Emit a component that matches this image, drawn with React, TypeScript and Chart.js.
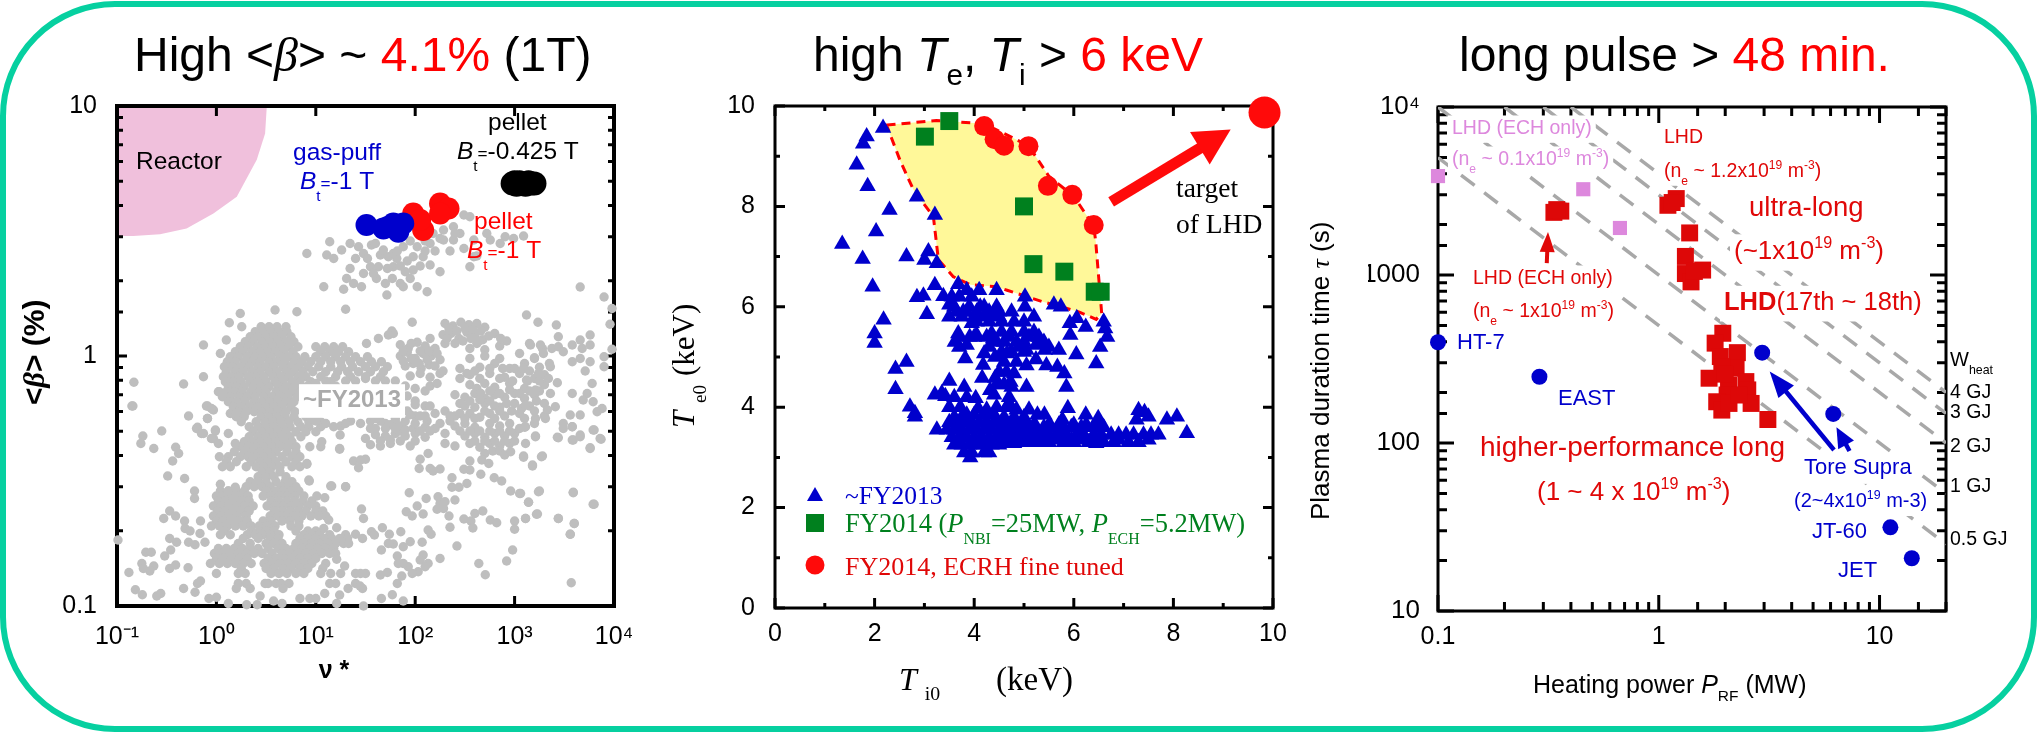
import React, { useEffect, useRef } from "react";
import Chart from "chart.js/auto";

/* ---------- Panel 1: <beta> vs nu* (values stored as [log10 nu*, log10 beta]) ---------- */
const pinkReactorEdge: [number, number][] = [[-1,1],[.507,1],[.49,.89],[.406,.785],[.205,.637],[-.03,.57],[-.3,.51],[-.567,.487],[-.836,.48],[-1,.48]];
const blackPellet: [number, number][] = [[2.98,.69],[3.0,.695],[3.02,.685],[3.05,.695],[3.08,.69],[3.11,.685],[3.14,.695],[3.17,.69],[3.2,.69]];
const bluePuff: [number, number][] = [[1.51,.524],[1.73,.517],[1.83,.497],[1.88,.53],[1.78,.53],[1.68,.51],[1.8,.51]];
const redPellet: [number, number][] = [[1.98,.57],[2.08,.504],[2.05,.544],[2.25,.61],[2.335,.59],[2.25,.57]];
const greyTopCloud: [number, number][] = [[.91,.41],[1.14,.457],[1.11,.404],[1.18,.39],[1.26,.424],[1.345,.45],[1.43,.437],[1.48,.41],[1.56,.444],[1.65,.404],[1.73,.397],[1.815,.39],[1.98,.397],[2.08,.397],[2.15,.364],[2.25,.337],[1.98,.344],[1.9,.337],[1.78,.357],[1.63,.357],[1.55,.357],[1.48,.33],[1.345,.35],[1.31,.31],[1.38,.29],[1.46,.277],[1.28,.267],[1.08,.277],[1.61,.31],[1.7,.29],[1.85,.29],[2.02,.277],[2.12,.257],[1.715,.244],[1.88,.277],[2.18,.49],[2.285,.504],[2.385,.517],[2.49,.564],[2.55,.557],[2.45,.49],[2.59,.464],[2.755,.464],[2.905,.477],[2.99,.47],[2.59,.397],[2.55,.357],[2.02,.437],[2.15,.45],[2.285,.464],[2.385,.464],[2.49,.43],[2.62,.4],[1.88,.437],[1.78,.41],[1.68,.424],[2.72,.49],[2.855,.45],[3.09,.48],[1.6,.45],[1.85,.36],[2.1,.42],[2.2,.42],[2.35,.42],[1.95,.46],[1.72,.35],[1.82,.42],[1.92,.38],[2.05,.36],[2.1,.46],[2.25,.47],[2.4,.49],[1.52,.39],[1.4,.39],[1.58,.33],[1.77,.31],[1.95,.31]];
const greyMainRows: [number, number[]][] = [
  [.117,[.45,.53,.61,.7]],
  [.097,[.39,.47,.55,.63,.71]],
  [.077,[.34,.42,.5,.58,.66,.75]],
  [.057,[.29,.37,.46,.54,.62,.7,.78]],
  [.037,[.24,.32,.41,.49,.57,.65,.73,.82,1.0,1.09,1.18,1.27]],
  [.017,[.19,.27,.36,.44,.52,.6,.68,.77,1.05,1.14,1.23,1.33]],
  [-.003,[.14,.22,.31,.39,.47,.55,.64,.72,.8,.89,1.0,1.1,1.2,1.3,1.4,1.52]],
  [-.023,[.11,.19,.28,.36,.44,.53,.61,.69,.78,.86,.95,1.05,1.15,1.25,1.35,1.45,1.56,1.66]],
  [-.043,[.08,.16,.25,.33,.42,.5,.58,.67,.75,.83,.92,1.03,1.15,1.26,1.37,1.5,1.6,1.72]],
  [-.063,[.1,.19,.27,.36,.44,.53,.61,.7,.78,.87,.97,1.1,1.22,1.32,1.43,1.55,1.68]],
  [-.083,[.07,.15,.23,.32,.4,.48,.57,.65,.73,.82,.9,1.05,1.2,1.35,1.5,1.65]],
  [-.103,[.09,.17,.25,.34,.42,.5,.59,.67,.76,.84,.95,1.15]],
  [-.123,[.12,.2,.28,.37,.45,.53,.62,.7,.78,.86]],
  [-.143,[.03,.1,.18,.26,.35,.43,.5,.6,.68,.76,.84]],
  [-.163,[.06,.14,.23,.31,.39,.48,.56,.64,.72,.81]],
  [-.183,[.12,.2,.29,.38,.46,.54,.62,.7,.78]],
  [-.203,[.17,.25,.34,.42,.5,.58,.66,.75]],
  [-.223,[.22,.3,.38,.46,.54,.62,.7,.79,.9]],
  [-.243,[.2,.28,.45,.53,.61,.69,.78,.9,1.0]],
  [-.263,[.25,.4,.49,.57,.65,.73,.82,.93,1.05]],
  [-.283,[.33,.42,.5,.58,.66,.74,.85,.93,1.05,1.18]],
  [-.303,[.37,.46,.54,.62,.7,.8,.9,1.0]],
  [-.323,[.33,.42,.5,.58,.66,.74,.85]],
  [-.343,[.28,.36,.44,.52,.6,.68,.76]],
  [-.363,[.24,.32,.4,.48,.56,.64,.72,.8,.94,1.05]],
  [-.383,[.18,.28,.36,.44,.52,.6,.71,.8]],
  [-.403,[.03,.12,.24,.32,.4,.48,.56,.66,.76,.84]],
  [-.423,[.1,.2,.35,.44,.52,.6,.7,.8]],
  [-.443,[.06,.14,.3,.4,.48,.56,.64,.76,.84]],
  [-.463,[.46,.54,.64]],
  [-.483,[.42,.5,.58,.7]],
  [-.503,[.34,.42,.5,.6,.69,.76]],
  [-.523,[.3,.38,.46,.54,.65,.72,.8]],
  [-.54,[.04,.12,.2,.28,.5,.59,.67,.75,.83]],
  [-.56,[0,.08,.16,.24,.32,.47,.55,.63,.71,.79,.88]],
  [-.58,[.02,.09,.17,.25,.33,.55,.63,.71,.79,.87,.96]],
  [-.6,[-.03,.05,.13,.21,.29,.37,.51,.59,.67,.75,.83,.92,1.0]],
  [-.62,[.01,.09,.17,.25,.33,.58,.66,.74,.82,.9,1.0,1.07]],
  [-.64,[-.03,.05,.13,.21,.3,.54,.62,.7,.78,.86,.95,1.03,1.1]],
  [-.66,[0,.07,.15,.23,.31,.47,.55,.66,.74,.83]],
  [-.68,[-.05,.03,.11,.19,.27,.35,.43,.51,.59,.75,.83]],
  [-.7,[.08,.35,.43,.5,.58,.8,.92,1.0]],
  [-.715,[.04,.14,.31,.39,.47,.55,.63,.88,.96,1.04,1.14,1.3]],
  [-.73,[.27,.42,.54,.62,.84,.92,1.0,1.08,1.16,1.24,1.32]],
  [-.75,[.22,.34,.5,.58,.66,.8,.88,.96,1.04,1.12,1.2,1.28,1.33]],
  [-.77,[.02,.1,.18,.26,.34,.42,.52,.62,.7,.78,.86,.94,1.02,1.1,1.18]],
  [-.79,[-.02,.06,.14,.22,.3,.38,.46,.56,.66,.74,.82,.9,.98,1.06,1.14,1.2]],
  [-.81,[0,.07,.15,.23,.31,.52,.6,.68,.76,.84,.92,1.0]],
  [-.83,[-.06,.03,.11,.19,.27,.35,.48,.56,.64,.72,.8,.88,.96,1.1]],
  [-.85,[.25,.5,.58,.67,.75,.84,.92,1.07]],
  [-.87,[0,.22,.29,.55,.63,.71,.8,.88,1.05,1.15,1.25,1.4,1.45,1.5]],
  [-.91,[.22,.3,.52,.6,.65,.73,1.14,1.2,1.4]],
];
const greyAroundLabel: [number, number][] = [[1.9,-.12],[2.0,-.13],[2.1,-.14],[1.92,-.16],[2.0,-.18],[2.1,-.2],[1.92,-.22],[2.0,-.24],[2.12,-.26],[1.9,-.26],[1.8,-.26],[1.7,-.27],[1.3,-.1],[1.4,-.1],[1.5,-.09],[1.6,-.1],[1.7,-.1],[1.8,-.1],[1.35,-.26],[1.45,-.27],[1.55,-.26],[1.0,-.26],[1.1,-.27],[.92,-.12],[1.0,-.11],[1.1,-.1],[1.2,-.12],[.9,-.18],[.95,-.25],[1.25,-.28],[1.6,-.29],[1.98,-.29],[1.85,-.3]];
const greyRightLobe: [number, number][] = [[2.3,.13],[2.38,.12],[2.46,.135],[2.54,.125],[2.62,.13],[2.7,.115],[1.78,.09],[2.15,.07],[2.28,.085],[2.36,.09],[2.44,.07],[2.52,.095],[2.6,.08],[2.68,.065],[2.8,.09],[2.92,.06],[1.85,.045],[1.93,.03],[2.02,.055],[2.1,.04],[2.2,.03],[2.3,.05],[2.55,.03],[2.62,.05],[2.7,.025],[2.85,.04],[3.15,.05],[3.28,.03],[1.85,0],[1.92,.015],[2.0,-.01],[2.08,.01],[2.16,0],[2.25,-.015],[2.55,-.01],[2.7,0],[2.85,-.01],[3.05,.01],[3.2,-.01],[1.9,-.04],[1.98,-.03],[2.06,-.05],[2.14,-.035],[2.65,-.045],[2.8,-.03],[2.95,-.05],[3.1,-.03],[3.25,-.045],[3.35,-.03],[1.95,-.08],[2.05,-.07],[2.15,-.085],[2.25,-.07],[2.55,-.075],[2.65,-.09],[2.75,-.07],[2.9,-.085],[3.05,-.07],[3.2,-.09],[3.3,-.075],[2.15,-.12],[2.22,-.11],[2.55,-.115],[2.62,-.13],[2.7,-.11],[2.8,-.125],[2.95,-.11],[3.1,-.13],[3.3,-.115],[2.4,-.155],[2.5,-.165],[2.6,-.15],[2.7,-.17],[2.8,-.155],[2.9,-.165],[3.0,-.15],[3.1,-.17],[3.2,-.155],[2.0,-.195],[2.15,-.2],[2.45,-.19],[2.6,-.205],[2.7,-.19],[2.85,-.205],[3.0,-.19],[3.15,-.2],[3.3,-.19],[1.95,-.235],[2.1,-.24],[2.2,-.23],[2.4,-.24],[2.55,-.23],[2.65,-.245],[2.75,-.23],[2.9,-.24],[3.05,-.23],[3.3,-.24],[1.75,-.275],[1.85,-.28],[2.0,-.27],[2.1,-.285],[2.25,-.27],[2.4,-.28],[2.5,-.27],[2.6,-.285],[2.75,-.27],[2.85,-.28],[2.95,-.27],[3.1,-.285],[3.2,-.27],[1.6,-.315],[1.7,-.32],[1.8,-.31],[1.9,-.32],[2.0,-.31],[2.1,-.325],[2.3,-.31],[2.5,-.32],[2.6,-.31],[2.7,-.325],[2.8,-.31],[2.9,-.32],[3.0,-.31],[1.55,-.355],[1.65,-.36],[1.75,-.35],[1.95,-.36],[2.3,-.35],[2.4,-.36],[2.55,-.35],[2.65,-.365],[2.75,-.35],[2.85,-.36],[2.95,-.35]];
const greyRightFill: [number, number][] = [[1.88,.02],[1.96,.05],[2.05,.02],[2.14,.02],[2.22,.01],[1.88,-.02],[1.96,-.01],[2.04,-.03],[2.12,-.015],[2.2,-.04],[2.28,-.06],[2.34,.11],[2.42,.1],[2.5,.11],[2.58,.105],[2.66,.1],[2.32,.07],[2.4,.05],[2.48,.06],[2.56,.07],[2.64,.06],[2.74,.08],[2.86,.07],[2.45,-.05],[2.52,-.07],[2.45,-.09],[2.6,-.06],[2.75,-.05],[2.88,-.05],[3.0,-.05],[3.15,-.06],[2.85,-.09],[2.98,-.1],[3.13,-.1],[3.25,-.1],[2.66,-.15],[2.75,-.14],[2.85,-.15],[2.95,-.135],[3.05,-.15],[3.15,-.14],[3.25,-.14],[2.5,-.2],[2.55,-.18],[2.65,-.175],[2.75,-.18],[2.8,-.2],[2.92,-.19],[3.07,-.21],[3.22,-.18],[2.45,-.23],[2.6,-.25],[2.7,-.22],[2.8,-.25],[2.85,-.22],[2.97,-.22],[3.1,-.25],[3.2,-.22],[2.5,-.25],[2.35,-.26],[2.45,-.3],[2.55,-.3],[2.65,-.3],[2.75,-.3],[2.85,-.3],[2.95,-.3],[3.05,-.29],[2.6,-.34],[2.7,-.34],[2.8,-.34],[2.9,-.34],[3.0,-.34],[2.7,-.39],[2.78,-.38],[2.85,-.38],[1.7,-.29],[1.8,-.29],[1.9,-.295],[2.05,-.3],[2.2,-.29],[1.65,-.34],[1.75,-.335],[1.85,-.34],[2.0,-.34],[2.15,-.3],[1.5,-.33],[1.55,-.29],[1.65,-.26],[1.6,-.25],[1.8,-.25],[2.05,-.24],[2.3,-.22],[2.35,-.24]];
const greyFarRight: [number, number][] = [[3.66,.276],[3.9,.236],[3.98,.19],[3.96,.127],[3.98,.027],[3.12,.164],[3.235,.135],[3.42,.124],[3.44,.077],[3.375,.03],[3.44,.037],[3.49,.017],[3.58,.044],[3.66,.064],[3.76,.084],[3.68,.03],[3.76,.044],[3.66,-.01],[3.58,-.023],[3.16,.044],[3.26,.044],[3.2,-.007],[3.29,.01],[3.36,-.043],[3.9,-.003],[3.9,-.043],[3.76,-.023],[3.71,-.06],[3.09,-.05],[3.12,-.096],[3.24,-.07],[3.34,-.09],[3.43,-.107],[3.21,-.136],[3.36,-.15],[3.58,-.15],[3.78,-.11],[3.73,-.15],[3.69,-.176],[3.79,-.183],[3.11,-.196],[3.33,-.216],[3.41,-.203],[3.56,-.236],[3.66,-.236],[3.88,-.21],[3.83,-.223],[3.21,-.25],[3.31,-.25],[3.49,-.27],[3.58,-.283],[3.79,-.296],[3.86,-.33],[3.11,-.283],[3.21,-.323],[3.43,-.325],[3.59,-.336],[3.66,-.323],[3.76,-.37],[3.09,-.4],[3.28,-.4],[3.18,-.436],[3.24,-.543],[3.59,-.545],[3.14,-.585],[3.79,-.593],[3.11,-.65],[3.23,-.632],[3.44,-.65],[3.6,-.67],[3.56,-.713],[3.06,-.55]];
const greyLeftEdge: [number, number][] = [[.59,.184],[.81,.177],[.24,.17],[.255,.117],[.13,.133],[1.3,.187],[-.13,.044],[.1,.064],[.04,.01],[-.13,-.083],[-.33,-.112],[-.83,-.105],[-.84,-.2],[-.85,-.2],[-.28,-.24],[-.09,-.25],[-.09,-.2],[-.03,-.216],[.02,-.143],[-.19,-.285],[-.13,-.31],[-.01,-.3],[-.03,-.33],[1.97,.135],[1.765,.1],[1.73,.084],[1.63,.07],[1.51,.05],[1.3,-.27],[1.245,-.316],[1.06,-.343],[1.24,-.37],[.91,-.43],[.935,-.5],[1.15,-.52],[1.3,-.523],[-.74,-.32],[-.76,-.35],[-.55,-.3],[-.63,-.37],[-.41,-.365],[-.38,-.39],[-.44,-.42],[-.49,-.48],[-.32,-.49],[-.22,-.54],[-.22,-.57],[-.47,-.62],[-.53,-.65],[-.41,-.64],[-.32,-.66],[-.16,-.66],[-.99,-.736],[-.315,-.69],[-.265,-.7],[-.165,-.71],[-.47,-.73],[-.4,-.745],[-.28,-.745],[-.215,-.755],[-.115,-.745],[-.71,-.785],[-.655,-.785],[-.52,-.8],[-.46,-.776],[-.75,-.83],[-.63,-.84],[-.67,-.86],[-.735,-.85],[-.88,-.866],[-.47,-.85],[-.41,-.836],[-.285,-.847],[-.815,-.935],[-.745,-.955],[-.6,-.96],[-.56,-.95],[-.33,-.93],[-.215,-.945],[-.19,-.91],[-.16,-.9],[-.075,-.97],[0,-.965],[.12,-.99],[.305,-.995],[.41,-.995],[.44,-.96],[.49,-.91],[.575,-.98],[.66,-.99],[.84,-.97],[.94,-.97],[1.0,-.97],[1.09,-.95],[1.21,-.99],[1.24,-.956],[1.325,-.93],[1.48,-1],[1.445,-.92],[1.47,-.93],[.2,-.93],[.34,-.93],[.67,-.93],[-.2,-.29],[-.15,-.31],[-.01,-.296],[-.05,-.33],[.02,-.35],[.12,-.31],[.19,-.35],[-.1,-.2],[-.05,-.21],[-.09,-.25],[.14,-.23],[.2,-.23],[.04,-.513],[.12,-.54],[.19,-.525],[1.24,-.373],[1.29,-.84],[1.21,-.813]];
const greyLowerRight: [number, number][] = [[1.66,-.97],[1.77,-.955],[1.82,-.91],[1.88,-.98],[1.865,-.88],[1.65,-.876],[1.72,-.866],[1.38,-.42],[1.45,-.416],[1.5,-.413],[1.43,-.447],[.91,-.433],[.93,-.496],[1.16,-.52],[1.3,-.523],[1.01,-.56],[1.09,-.567],[1.46,-.612],[1.48,-.65],[1.94,-.547],[2.11,-.57],[2.02,-.6],[1.91,-.623],[1.97,-.64],[2.08,-.632],[2.23,-.563],[2.25,-.59],[2.3,-.583],[2.22,-.613],[2.4,-.576],[2.285,-.61],[2.34,-.64],[2.35,-.685],[2.49,-.652],[2.56,-.66],[2.6,-.63],[2.68,-.62],[2.58,-.688],[2.755,-.656],[2.82,-.667],[3.0,-.66],[3.0,-.693],[3.11,-.65],[3.22,-.633],[3.44,-.65],[3.6,-.67],[3.56,-.713],[3.59,-.547],[3.8,-.593],[3.25,-.54],[3.14,-.585],[3.05,-.55],[2.96,-.54],[2.87,-.5],[2.795,-.487],[2.66,-.473],[2.37,-.487],[2.37,-.525],[2.44,-.525],[2.52,-.51],[2.49,-.453],[2.55,-.456],[2.55,-.42],[2.67,-.416],[2.74,-.43],[2.13,-.39],[2.05,-.413],[2.04,-.45],[2.15,-.45],[2.25,-.452],[2.18,-.46],[2.9,-.396],[2.96,-.383],[3.09,-.405],[3.18,-.44],[3.27,-.403],[3.11,-.35],[3.21,-.32],[3.44,-.327],[3.58,-.336],[3.66,-.316],[3.76,-.367],[3.87,-.333],[3.8,-.296],[3.49,-.29],[3.58,-.283],[2.42,-.76],[2.98,-.776],[2.64,-.83],[2.705,-.875],[2.92,-.82],[3.57,-.907],[2.25,-.81],[2.08,-.796],[2.05,-.816],[2.13,-.83],[2.1,-.843],[2.03,-.863],[1.97,-.87],[1.93,-.843],[1.88,-.83],[1.83,-.83],[1.82,-.8],[1.95,-.743],[2.07,-.745],[1.88,-.763],[1.78,-.752],[1.73,-.75],[1.74,-.713],[1.66,-.776],[1.855,-.703],[2.13,-.696],[2.16,-.713],[1.67,-.687],[1.56,-.703],[1.59,-.716],[1.4,-.713],[1.47,-.73],[1.21,-.687],[1.13,-.656],[1.08,-.69]];

/* ---------- Panel 2: Te0 vs Ti0 (keV) ---------- */
const regionEdge: [number, number][] = [[2.24,9.62],[3.24,9.71],[4.0,9.66],[4.4,9.55],[5.09,9.21],[5.5,8.6],[6.0,8.2],[6.4,7.61],[6.44,7.3],[6.56,5.87],[6.45,5.75],[6.1,5.9],[5.38,6.1],[4.66,6.33],[4.45,6.4],[3.92,6.44],[3.58,6.6],[3.28,6.94],[3.25,7.2],[3.18,7.8],[2.98,8.06],[2.78,8.33],[2.51,8.92]];
const targetPoint: [number, number][] = [[9.83,9.87]];
const fy2014Ecrh: [number, number][] = [[4.2,9.6],[4.41,9.34],[4.6,9.21],[5.09,9.2],[5.48,8.41],[5.97,8.23],[6.4,7.63]];
const fy2014Nbi: [number, number][] = [[3.01,9.39],[3.5,9.7],[5.0,8.0],[5.19,6.85],[5.81,6.7],[6.42,6.3],[6.54,6.3]];
const fy2013Loose: [number, number][] = [[2.17,9.56],[1.84,9.39],[1.77,9.25],[1.64,8.83],[1.86,8.4],[2.85,8.19],[3.21,7.83],[2.3,7.93],[2.03,7.5],[1.35,7.25],[1.76,6.95],[2.64,7.0],[3.08,7.1],[3.0,6.93],[3.25,6.87],[1.96,6.4],[3.21,6.43],[3.68,6.45],[3.85,6.33],[4.1,6.33],[2.85,6.19],[2.98,6.22],[3.38,6.21],[4.45,6.33],[3.5,6.04],[3.05,5.85],[3.78,5.9],[4.12,6.0],[4.32,5.84],[2.18,5.74],[2.0,5.47],[2.0,5.28],[3.95,5.67],[3.68,5.47],[3.91,5.4],[4.05,5.44],[4.35,5.47],[3.61,5.3],[3.85,5.24],[4.38,5.37],[4.2,5.07],[3.82,4.97],[4.42,5.0],[4.18,4.84],[2.64,4.9],[2.42,4.76],[2.42,4.36],[3.5,4.52],[4.16,4.58],[4.42,4.58],[4.32,4.34],[3.35,4.28],[3.21,4.25],[3.42,4.22],[4.03,4.18],[3.72,4.0],[4.08,3.98],[2.71,4.01],[2.81,3.88],[2.81,3.81],[5.02,6.2],[5.02,6.0],[5.6,6.04],[5.74,6.0],[6.06,5.77],[5.92,5.67],[6.24,5.6],[6.6,5.7],[6.63,5.57],[6.67,5.4],[5.93,5.44],[6.53,5.2],[5.7,5.14],[6.05,5.05],[6.45,4.87],[5.24,5.24],[5.42,5.14],[5.05,5.14],[4.66,5.07],[5.24,4.95],[5.45,4.83],[5.67,4.8],[5.81,4.67],[5.05,4.83],[4.8,4.67],[4.73,4.5],[5.05,4.4],[5.85,4.4],[4.7,4.08],[5.88,3.98],[5.27,3.85],[5.41,3.85],[5.77,3.75],[6.24,3.85],[6.49,3.78],[7.3,3.94],[7.42,3.9],[7.5,3.81],[7.87,3.75],[8.07,3.81],[8.27,3.48],[7.26,3.75]];
const fy2013Rows: [number, number[]][] = [
  [6.2,[3.55,3.7,3.95]],
  [6.0,[3.6,3.9,4.2,4.45]],
  [5.9,[3.65,3.85,4.05,4.3,4.5,4.75]],
  [5.8,[3.5,3.75,4.0,4.2,4.5,5.2]],
  [5.7,[4.05,4.3,4.55,4.8,5.0]],
  [5.5,[4.55,4.75,5.0,5.2]],
  [5.4,[3.7,4.0,4.25,4.7,5.1,5.3]],
  [5.3,[4.45,4.6,4.85,5.0,5.4]],
  [5.2,[3.7,4.3,4.9,5.5]],
  [5.1,[4.55,4.75,5.0]],
  [4.9,[4.6,4.85]],
  [4.7,[4.5,4.65]],
  [4.45,[4.45,4.6]],
  [4.4,[3.8,4.75]],
  [4.25,[4.4]],
  [4.2,[3.6,3.85,4.7]],
  [4.0,[3.5,4.45,4.65]],
  [3.95,[4.25,4.85,5.1]],
  [3.85,[3.85,4.0,4.2,4.4]],
  [3.8,[3.6,3.75,4.6,4.8,5.0]],
  [3.7,[3.5,3.65,3.8,3.95,4.1,4.25,4.4,4.55]],
  [3.65,[4.7,4.85,5.0,5.2,5.5,5.7,6.0,6.25,6.5]],
  [3.6,[4.6,4.8,4.95,5.1,5.25,5.4,5.55,5.8,5.95,6.15,6.4,6.6]],
  [3.55,[3.25,3.45,3.6,3.75,3.9,4.05,4.2,4.35,4.5]],
  [3.5,[4.65,4.85,5.15,5.45,5.7]],
  [3.45,[4.55,4.7,4.9,5.05,5.2,5.35,5.5,5.65,5.85,6.05,6.2,6.4,6.55,6.75,6.9,7.05,7.2,7.4,7.55,7.7]],
  [3.4,[3.55,3.7,3.85,4.0,4.15,4.3,4.45]],
  [3.35,[4.6,4.8,5.0,5.2,5.45,5.65,5.95,6.15,6.45,6.9,7.5]],
  [3.3,[4.0,4.2,4.7,4.9,5.1,5.3,5.5,5.8,6.0,6.3,6.6,6.8,7.1,7.3]],
  [3.28,[4.6,4.8,6.45]],
  [3.25,[3.6,3.75,3.9,4.05,4.2,4.35,4.5]],
  [3.1,[3.8,3.95,4.2,4.3]],
  [3.0,[3.92]],
];
const arrowToTarget: [number, number][] = [[6.75,8.09],[9.15,9.53]];

/* ---------- Panel 3: tau vs P ---------- */
const wheatLines: [number, number][][] = [
  [[.1,5000],[20,25]],
  [[.1,10000],[20,50]],
  [[.2,10000],[20,100]],
  [[.3,10000],[20,150]],
  [[.4,10000],[20,200]],
];
const lhdEchOnlyLow: [number, number][] = [[.1,3880],[.455,3240],[.667,1905]];
const lhdLong: [number, number][] = [[.335,2360],[.36,2400],[.345,2450],[1.1,2600],[1.2,2850],[1.15,2700],[1.38,1780],[1.32,1290],[1.58,1070],[1.32,1020],[1.4,910],[1.45,1050],[1.95,450],[1.8,393],[2.27,345],[1.9,327],[2.24,279],[1.93,285],[1.69,243],[2.07,221],[2.48,232],[2.53,207],[2.04,193],[1.83,176],[1.93,157],[2.62,172],[3.12,138],[2.08,172],[2.3,193],[2.0,257]];
const otherDevices: [number, number][] = [[.1,398],[.288,248],[2.94,345],[6.17,149],[11.2,31.5],[14,20.6]];
const echArrow: [number, number][] = [[.311,1178],[.315,1803]];
const toreArrowA: [number, number][] = [[6.22,90.8],[3.18,266]];
const toreArrowB: [number, number][] = [[7.31,89.6],[6.38,124]];

/* ---------- helpers ---------- */
const SANS = '"Liberation Sans", Arial, sans-serif';
const SERIF = '"Liberation Serif", "Times New Roman", serif';
const W = 2039, H = 735;

type Run = { t: string; c?: string; i?: boolean; b?: boolean; f?: string; k?: number; dy?: number };
type Block = { x: number; y: number; size: number; color: string; font?: string; rot?: boolean; align?: "center"; bg?: boolean; runs: (string | Run)[] };

const sup = (t: string, c?: string): Run => ({ t, k: 0.62, dy: -0.42, c });
const sub = (t: string, dy = 0.42, k = 0.62): Run => ({ t, k, dy });
const it = (t: string, f?: string): Run => ({ t, i: true, f });

function drawBlock(ctx: CanvasRenderingContext2D, b: Block) {
  const fontOf = (r: Run) => `${r.i ? "italic " : ""}${r.b ? "bold " : ""}${b.size * (r.k || 1)}px ${r.f || b.font || SANS}`;
  const runs: Run[] = b.runs.map((r) => (typeof r === "string" ? { t: r } : r));
  ctx.save();
  ctx.textBaseline = "alphabetic";
  ctx.textAlign = "left";
  let total = 0;
  const widths = runs.map((r) => { ctx.font = fontOf(r); const w = ctx.measureText(r.t).width; total += w; return w; });
  ctx.translate(b.x, b.y);
  if (b.rot) ctx.rotate(-Math.PI / 2);
  let x = b.align === "center" ? -total / 2 : 0;
  if (b.bg) { ctx.fillStyle = "#ffffff"; ctx.fillRect(x - 4, -b.size * 0.95, total + 8, b.size * 1.4); }
  runs.forEach((r, i) => {
    ctx.font = fontOf(r);
    ctx.fillStyle = r.c || b.color;
    ctx.fillText(r.t, x, (r.dy || 0) * b.size);
    x += widths[i];
  });
  ctx.restore();
}

function drawArrow(chart: any, ends: [number, number][], color: string, lw: number, headLen: number, headW: number) {
  const { ctx, scales } = chart;
  const [a, b] = ends.map((p) => [scales.x.getPixelForValue(p[0]), scales.y.getPixelForValue(p[1])]);
  const ang = Math.atan2(b[1] - a[1], b[0] - a[0]);
  ctx.save();
  ctx.translate(b[0], b[1]);
  ctx.rotate(ang);
  const len = Math.hypot(b[0] - a[0], b[1] - a[1]);
  ctx.fillStyle = color;
  ctx.fillRect(-len, -lw / 2, len - headLen + 1, lw);
  ctx.beginPath();
  ctx.moveTo(0, 0);
  ctx.lineTo(-headLen, -headW / 2);
  ctx.lineTo(-headLen, headW / 2);
  ctx.closePath();
  ctx.fill();
  ctx.restore();
}

type FrameOpts = { lw: number; tickW: number; major: number; minor: number; minorX: boolean; minorY: boolean; isMajorX: (v: number) => boolean; isMajorY: (v: number) => boolean };
const isDecade = (v: number) => Math.abs(Math.log10(v) - Math.round(Math.log10(v))) < 1e-6;
const isEven = (v: number) => Math.abs(v % 2) < 1e-6;

function drawFrame(chart: any, o: FrameOpts) {
  const { ctx, chartArea: a, scales } = chart;
  ctx.save();
  ctx.strokeStyle = "#000";
  ctx.lineWidth = o.tickW;
  ctx.beginPath();
  scales.x.ticks.forEach((t: any) => {
    const mj = o.isMajorX(t.value);
    if (!mj && !o.minorX) return;
    const p = scales.x.getPixelForValue(t.value);
    const l = mj ? o.major : o.minor;
    ctx.moveTo(p, a.bottom); ctx.lineTo(p, a.bottom - l);
    ctx.moveTo(p, a.top); ctx.lineTo(p, a.top + l);
  });
  scales.y.ticks.forEach((t: any) => {
    const mj = o.isMajorY(t.value);
    if (!mj && !o.minorY) return;
    const p = scales.y.getPixelForValue(t.value);
    const l = mj ? o.major : o.minor;
    ctx.moveTo(a.left, p); ctx.lineTo(a.left + l, p);
    ctx.moveTo(a.right, p); ctx.lineTo(a.right - l, p);
  });
  ctx.stroke();
  ctx.lineWidth = o.lw;
  ctx.strokeRect(a.left, a.top, a.right - a.left, a.bottom - a.top);
  ctx.restore();
}

function drawPolygon(chart: any, pts: [number, number][], fill: string, stroke?: string) {
  const { ctx, scales } = chart;
  ctx.save();
  ctx.beginPath();
  pts.forEach((p, i) => {
    const x = scales.x.getPixelForValue(p[0]), y = scales.y.getPixelForValue(p[1]);
    if (i) ctx.lineTo(x, y); else ctx.moveTo(x, y);
  });
  ctx.closePath();
  ctx.fillStyle = fill;
  ctx.fill();
  if (stroke) {
    ctx.strokeStyle = stroke;
    ctx.lineWidth = 3;
    ctx.setLineDash([9, 6]);
    ctx.stroke();
  }
  ctx.restore();
}

function axis(type: string, min: number, max: number, padding: number, size: number, cb: (v: number) => string, fit: (s: any) => void, extra: any = {}) {
  return {
    type, min, max,
    grid: { display: false }, border: { display: false },
    ticks: { callback: cb, autoSkip: false, maxRotation: 0, padding, color: "#000", font: { family: SANS, size }, ...extra },
    afterFit(s: any) { fit(s); s.paddingLeft = 0; s.paddingRight = 0; s.paddingTop = 0; s.paddingBottom = 0; },
  };
}
const fixWidth = (s: any) => { s.width = 70; };
const fixHeight = (s: any) => { s.height = 50; };
const box = (l: number, t: number, r: number, b: number) => ({ left: l - 70, top: t, right: W - r, bottom: H - b - 50 });

const log = (p: [number, number][]) => p.map(([x, y]) => ({ x: 10 ** x, y: 10 ** y }));
const xy = (p: [number, number][]) => p.map(([x, y]) => ({ x, y }));
const fromRows = (rows: [number, number[]][]) => rows.flatMap(([y, xs]) => xs.map((x) => [x, y] as [number, number]));
const pts = (data: any[], color: string, style: string, r: number) => ({ data, pointStyle: style, pointRadius: r, pointBackgroundColor: color, pointBorderWidth: 0, showLine: false, clip: false as any });

const RED = "#FF0000";
const BLUE = "#0000CC";
const LRED = "#E00808";
const PINK = "#DD88DD";

const textP1: Block[] = [
  { x: 134, y: 71, size: 48, color: "#000", runs: ["High <", it("β", SERIF), "> ~ ", { t: "4.1%", c: RED }, " (1T)"] },
  { x: 136, y: 169, size: 24.5, color: "#000", runs: ["Reactor"] },
  { x: 293, y: 160, size: 24.5, color: BLUE, runs: ["gas-puff"] },
  { x: 300, y: 189, size: 24.5, color: BLUE, runs: [it("B"), sub("t", .48), { t: "=", k: .7 }, "-1 T"] },
  { x: 488, y: 130, size: 24.5, color: "#000", runs: ["pellet"] },
  { x: 457, y: 159, size: 24.5, color: "#000", runs: [it("B"), sub("t", .48), { t: "=", k: .7 }, "-0.425 T"] },
  { x: 474, y: 229, size: 24.5, color: RED, runs: ["pellet"] },
  { x: 467, y: 258, size: 24.5, color: RED, runs: [it("B"), sub("t", .48), { t: "=", k: .7 }, "-1 T"] },
  { x: 352, y: 407, size: 24, color: "#AAAAAA", align: "center", bg: true, runs: [{ t: "~FY2013", b: true }] },
  { x: 334, y: 678, size: 25, color: "#000", align: "center", runs: [{ t: "ν *", b: true }] },
  { x: 44, y: 405, size: 30, color: "#000", rot: true, runs: [{ t: "<", b: true }, { t: "β", i: true, b: true, f: SERIF }, { t: "> (%)", b: true }] },
];
const textP2: Block[] = [
  { x: 813, y: 71, size: 48, color: "#000", runs: ["high ", it("T"), sub("e", .3), ", ", it("T"), sub("i", .3), " > ", { t: "6 keV", c: RED }] },
  { x: 1176, y: 197, size: 27.5, color: "#000", font: SERIF, runs: ["target"] },
  { x: 1176, y: 233, size: 27.5, color: "#000", font: SERIF, runs: ["of LHD"] },
  { x: 845, y: 504, size: 25.5, color: BLUE, font: SERIF, runs: ["~FY2013"] },
  { x: 845, y: 532, size: 26.5, color: "#00801E", font: SERIF, runs: ["FY2014 (", it("P"), sub("NBI", .45, .6), "=25MW, ", it("P"), sub("ECH", .45, .6), "=5.2MW)"] },
  { x: 845, y: 575, size: 26, color: LRED, font: SERIF, runs: ["FY2014, ECRH fine tuned"] },
  { x: 899, y: 690, size: 32, color: "#000", font: SERIF, runs: [it("T"), " ", sub("i0", .3)] },
  { x: 996, y: 690, size: 33, color: "#000", font: SERIF, runs: ["(keV)"] },
  { x: 694, y: 428, size: 31, color: "#000", font: SERIF, rot: true, runs: [it("T"), " ", sub("e0", .4)] },
  { x: 694, y: 376, size: 31, color: "#000", font: SERIF, rot: true, runs: ["(keV)"] },
];
const textP3: Block[] = [
  { x: 1459, y: 71, size: 48, color: "#000", runs: ["long pulse > ", { t: "48 min.", c: RED }] },
  { x: 1452, y: 134, size: 19.5, color: PINK, bg: true, runs: ["LHD (ECH only)"] },
  { x: 1452, y: 165, size: 19.5, color: PINK, bg: true, runs: ["(n", sub("e"), " ~ 0.1x10", sup("19"), " m", sup("-3"), ")"] },
  { x: 1664, y: 143, size: 19.5, color: LRED, bg: true, runs: ["LHD"] },
  { x: 1664, y: 177, size: 19.5, color: LRED, bg: true, runs: ["(n", sub("e"), " ~ 1.2x10", sup("19"), " m", sup("-3"), ")"] },
  { x: 1749, y: 216, size: 27.5, color: LRED, bg: true, runs: ["ultra-long"] },
  { x: 1734, y: 259, size: 26, color: LRED, bg: true, runs: ["(~1x10", sup("19"), " m", sup("-3"), ")"] },
  { x: 1724, y: 310, size: 25.5, color: LRED, bg: true, runs: [{ t: "LHD", b: true }, "(17th ~ 18th)"] },
  { x: 1473, y: 284, size: 19.5, color: LRED, bg: true, runs: ["LHD (ECH only)"] },
  { x: 1473, y: 317, size: 19.5, color: LRED, bg: true, runs: ["(n", sub("e"), " ~ 1x10", sup("19"), " m", sup("-3"), ")"] },
  { x: 1457, y: 349, size: 22, color: BLUE, runs: ["HT-7"] },
  { x: 1558, y: 405, size: 22, color: BLUE, runs: ["EAST"] },
  { x: 1480, y: 456, size: 28, color: LRED, bg: true, runs: ["higher-performance long"] },
  { x: 1537, y: 500, size: 26, color: LRED, bg: true, runs: ["(1 ~ 4 x 10", sup("19"), " m", sup("-3"), ")"] },
  { x: 1804, y: 474, size: 22, color: BLUE, bg: true, runs: ["Tore Supra"] },
  { x: 1794, y: 507, size: 20, color: BLUE, bg: true, runs: ["(2~4x10", sup("19"), " m-3)"] },
  { x: 1812, y: 538, size: 22, color: BLUE, runs: ["JT-60"] },
  { x: 1838, y: 577, size: 22, color: BLUE, runs: ["JET"] },
  { x: 1950, y: 366, size: 20, color: "#000", runs: ["W", sub("heat", .4, .62)] },
  { x: 1950, y: 398, size: 19.5, color: "#000", runs: ["4 GJ"] },
  { x: 1950, y: 418, size: 19.5, color: "#000", runs: ["3 GJ"] },
  { x: 1950, y: 452, size: 19.5, color: "#000", runs: ["2 GJ"] },
  { x: 1950, y: 492, size: 19.5, color: "#000", runs: ["1 GJ"] },
  { x: 1950, y: 545, size: 19.5, color: "#000", runs: ["0.5 GJ"] },
  { x: 1329, y: 520, size: 26, color: "#000", rot: true, runs: ["Plasma duration time ", it("τ", SERIF), " (s)"] },
  { x: 1533, y: 693, size: 25, color: "#000", runs: ["Heating power ", it("P"), sub("RF", .3), " (MW)"] },
];

const common = (padding: any) => ({
  animation: false as const,
  responsive: false,
  maintainAspectRatio: false,
  events: [] as any[],
  layout: { padding },
  plugins: { legend: { display: false }, tooltip: { enabled: false } },
});

export default function App() {
  const c1 = useRef<HTMLCanvasElement>(null);
  const c2 = useRef<HTMLCanvasElement>(null);
  const c3 = useRef<HTMLCanvasElement>(null);

  useEffect(() => {
    document.body.style.margin = "0";
    const nuLabels: Record<string, string> = { "0.1": "10⁻¹", "1": "10⁰", "10": "10¹", "100": "10²", "1000": "10³", "10000": "10⁴" };
    const chart1 = new Chart(c1.current!, {
      type: "scatter",
      data: {
        datasets: [
          pts(log(bluePuff), BLUE, "circle", 11),
          pts(log(redPellet), "#FF0A0A", "circle", 11),
          pts(log(blackPellet), "#000", "circle", 12),
          pts(log([...greyTopCloud, ...fromRows(greyMainRows), ...greyAroundLabel, ...greyRightLobe, ...greyRightFill, ...greyFarRight, ...greyLeftEdge, ...greyLowerRight]), "#BEBEBE", "circle", 4.7),
        ] as any,
      },
      options: {
        ...common(box(117, 106, 614, 606)),
        scales: {
          x: axis("logarithmic", 0.1, 10000, 8, 25, (v) => (isDecade(v) ? nuLabels[String(Math.round(v * 10) / 10)] || "" : ""), fixHeight),
          y: axis("logarithmic", 0.1, 10, 12, 25, (v) => (isDecade(v) ? String(Math.round(v * 10) / 10) : ""), fixWidth),
        },
      } as any,
      plugins: [{
        id: "p1",
        beforeDatasetsDraw(chart: any) {
          const { ctx, chartArea: a } = chart;
          ctx.save(); ctx.beginPath(); ctx.rect(a.left, a.top, a.right - a.left, a.bottom - a.top); ctx.clip();
          drawPolygon(chart, log(pinkReactorEdge).map((p) => [p.x, p.y]) as any, "#F0C0DC");
          ctx.restore();
          drawFrame(chart, { lw: 4, tickW: 3, major: 10, minor: 6, minorX: false, minorY: true, isMajorX: isDecade, isMajorY: isDecade });
        },
        afterDatasetsDraw(chart: any) { textP1.forEach((b) => drawBlock(chart.ctx, b)); },
      }],
    });

    const chart2 = new Chart(c2.current!, {
      type: "scatter",
      data: {
        datasets: [
          pts(xy(targetPoint), "#FF0A0A", "circle", 16),
          pts(xy(fy2014Ecrh), "#FF0A0A", "circle", 10),
          pts(xy(fy2014Nbi), "#00801E", "rect", 12.7),
          pts(xy([...fy2013Loose, ...fromRows(fy2013Rows)]), BLUE, "triangle", 9.5),
        ] as any,
      },
      options: {
        ...common(box(775, 106, 1273, 608)),
        scales: {
          x: axis("linear", 0, 10, 3, 25, (v) => (isEven(v) ? String(v) : ""), fixHeight, { stepSize: 1 }),
          y: axis("linear", 0, 10, 12, 25, (v) => (isEven(v) ? String(v) : ""), fixWidth, { stepSize: 1 }),
        },
      } as any,
      plugins: [{
        id: "p2",
        beforeDatasetsDraw(chart: any) {
          drawPolygon(chart, regionEdge, "#FFF899", "#FF0000");
          drawFrame(chart, { lw: 3, tickW: 3, major: 10, minor: 5, minorX: true, minorY: true, isMajorX: isEven, isMajorY: isEven });
        },
        afterDatasetsDraw(chart: any) {
          drawArrow(chart, arrowToTarget, "#FF0A0A", 11, 36, 38);
          textP2.forEach((b) => drawBlock(chart.ctx, b));
          const { ctx } = chart;
          ctx.save();
          ctx.fillStyle = BLUE;
          ctx.beginPath(); ctx.moveTo(815, 487); ctx.lineTo(807, 501); ctx.lineTo(823, 501); ctx.closePath(); ctx.fill();
          ctx.fillStyle = "#00801E"; ctx.fillRect(806, 514, 18, 18);
          ctx.fillStyle = "#FF0A0A"; ctx.beginPath(); ctx.arc(815, 565, 9.5, 0, Math.PI * 2); ctx.fill();
          ctx.restore();
        },
      }],
    });

    const wheatStart = 3;
    const chart3 = new Chart(c3.current!, {
      type: "scatter",
      data: {
        datasets: [
          pts(xy(otherDevices), BLUE, "circle", 8),
          pts(xy(lhdEchOnlyLow), PINK, "rect", 10),
          pts(xy(lhdLong), "#DD0808", "rect", 12),
          ...wheatLines.map((l) => ({ data: xy(l), showLine: true, pointRadius: 0, borderColor: "#A8A8A8", borderWidth: 3.5, borderDash: [17, 12] })),
        ] as any,
      },
      options: {
        ...common(box(1438, 107, 1946, 611)),
        scales: {
          x: axis("logarithmic", 0.1, 20, 3, 25, (v) => (isDecade(v) ? String(Math.round(v * 10) / 10) : ""), fixHeight),
          y: axis("logarithmic", 10, 10000, 10, 26, (v) => (isDecade(v) ? (v >= 10000 ? "10⁴" : String(Math.round(v))) : ""), fixWidth),
        },
      } as any,
      plugins: [{
        id: "p3",
        beforeDatasetsDraw(chart: any) {
          drawFrame(chart, { lw: 3, tickW: 3, major: 16, minor: 9, minorX: true, minorY: true, isMajorX: isDecade, isMajorY: isDecade });
        },
        afterDatasetDraw(chart: any, args: any) {
          if (args.index === wheatStart) textP3.forEach((b) => drawBlock(chart.ctx, b));
        },
        afterDatasetsDraw(chart: any) {
          drawArrow(chart, echArrow, LRED, 4, 20, 15);
          drawArrow(chart, toreArrowA, BLUE, 4.5, 26, 20);
          drawArrow(chart, toreArrowB, BLUE, 4.5, 20, 18);
        },
      }],
    });
    return () => { chart1.destroy(); chart2.destroy(); chart3.destroy(); };
  }, []);

  const cv: React.CSSProperties = { position: "absolute", left: 0, top: 0, display: "block" };
  return (
    <div style={{ position: "relative", width: W, height: H, overflow: "hidden", background: "#fff" }}>
      <div style={{ position: "absolute", left: 0, top: 1, width: 2037, height: 731, boxSizing: "border-box", border: "6px solid #06D0A0", borderRadius: 115 }} />
      <canvas ref={c1} width={W} height={H} style={cv} />
      <canvas ref={c2} width={W} height={H} style={cv} />
      <canvas ref={c3} width={W} height={H} style={cv} />
    </div>
  );
}
